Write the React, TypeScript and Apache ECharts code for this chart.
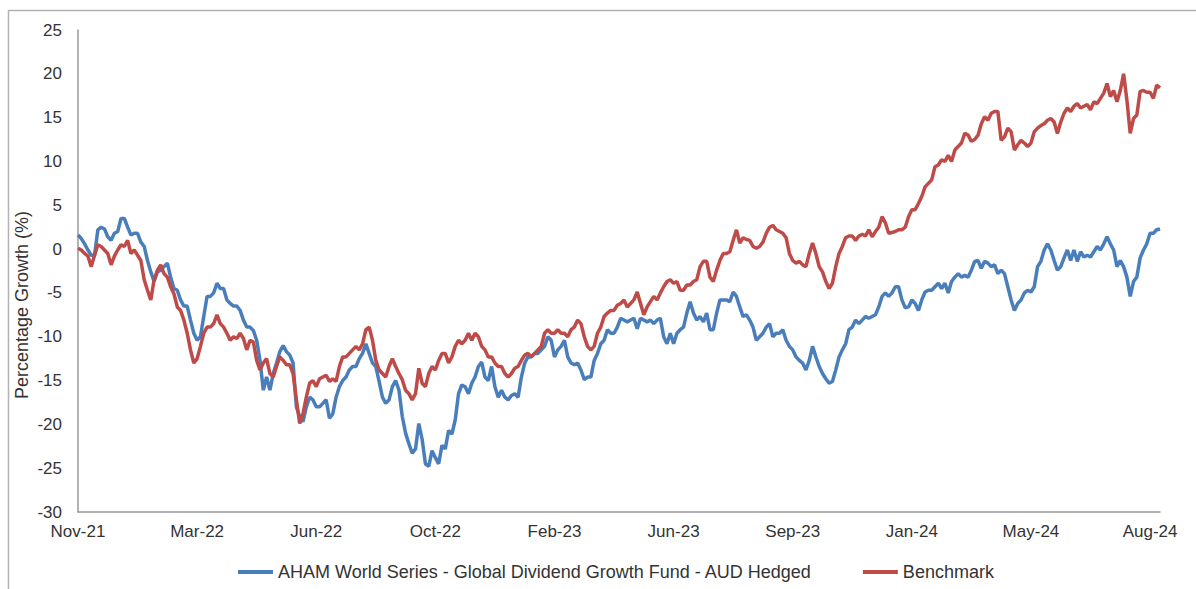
import React, { useEffect, useRef } from "react";
import * as echarts from "echarts";

const tickLabels = ["Nov-21", "Mar-22", "Jun-22", "Oct-22", "Feb-23", "Jun-23", "Sep-23", "Jan-24", "May-24", "Aug-24"];
const pointsPerTick = 36;

const fundName = "AHAM World Series - Global Dividend Growth Fund - AUD Hedged";
const benchName = "Benchmark";

const fund = [
  1.6, 1.2, 0.6, -0.1, -0.7, -0.7, 2.2, 2.5, 2.3, 1.4,
  1.0, 1.8, 2.0, 3.5, 3.5, 2.5, 1.6, 1.8, 1.8, 0.8,
  0.3, -1.3, -2.6, -3.7, -2.6, -2.4, -2.0, -1.6, -3.2, -4.5,
  -4.7, -5.8, -6.5, -6.5, -8.1, -9.6, -10.4, -10.0, -7.7, -5.4,
  -5.4, -5.0, -3.9, -4.5, -4.5, -5.8, -6.2, -6.5, -6.5, -7.0,
  -8.1, -8.9, -8.9, -9.3, -10.4, -12.7, -16.1, -14.6, -16.1, -14.2,
  -13.0, -11.7, -11.0, -11.7, -12.1, -13.0, -18.0, -19.1, -19.7, -18.0,
  -16.9, -17.2, -18.0, -18.0, -17.6, -17.2, -19.3, -18.8, -16.9, -15.7,
  -15.0,
  -14.6, -13.8, -13.4, -13.4, -12.5, -11.9, -10.8, -11.9, -13.0, -13.4,
  -15.1, -16.9, -17.6, -17.2, -15.7, -15.0, -16.1, -19.1, -21.0, -22.2,
  -23.3, -22.8, -19.9, -21.7, -24.5, -24.8, -23.0, -23.8, -24.5, -22.4,
  -22.8, -20.7, -21.1, -19.5, -16.5, -15.5, -15.7, -16.5, -15.3, -14.6,
  -13.4, -12.9, -14.6, -15.0, -13.4, -15.7, -16.9, -16.1, -16.9, -17.2,
  -16.7, -16.5, -16.9, -14.6, -13.0, -12.3, -12.3, -11.9, -11.9, -11.5,
  -11.1, -10.0, -10.4, -12.3, -11.5, -11.1, -10.4, -12.3, -13.0, -13.2,
  -13.0, -13.8, -14.9, -14.6, -14.6, -12.7, -11.9, -10.8, -10.4, -9.2,
  -9.6, -9.6, -8.9, -7.9, -8.1, -8.3, -8.1, -7.9, -9.1, -7.9,
  -8.1, -8.3, -8.1, -8.5, -8.1, -7.9, -10.0, -10.8, -9.6, -10.8,
  -9.6, -9.2, -8.9, -7.3, -6.0, -7.3, -8.1, -7.7, -8.3, -7.3,
  -9.2, -9.2, -7.3, -5.8, -5.8, -5.8, -6.0, -4.9, -5.4, -6.6,
  -7.7, -7.5, -8.1, -8.9, -10.4, -10.0, -9.6, -8.9, -8.5, -10.0,
  -9.6, -9.6, -9.2, -10.4, -11.1, -11.5, -12.3, -12.7, -13.0, -13.8,
  -12.7, -11.1, -12.3, -13.4, -14.2, -14.8, -15.3, -15.1, -13.8, -12.3,
  -11.5, -10.8, -9.2, -8.9, -8.1, -8.5, -8.1, -7.7, -7.9,
  -7.7, -7.5, -6.6, -5.4, -5.0, -5.4, -5.0, -4.3, -4.3, -5.8,
  -6.7, -6.6, -5.8, -6.2, -7.0, -5.8, -4.9, -4.7, -4.7, -4.3,
  -3.9, -4.5, -3.9, -5.0, -3.7, -3.2, -2.8, -3.2, -3.0, -3.2,
  -2.4, -1.4, -1.3, -2.2, -1.4, -1.6, -2.0, -1.8, -2.8, -2.4,
  -2.8, -4.3, -5.8, -7.0, -6.2, -5.8, -5.0, -4.7, -4.9, -4.3,
  -2.0, -1.4, -0.1, 0.6, -0.1, -1.3, -2.4, -2.0, -1.0, -0.1,
  -1.3, -0.1, -1.4, -0.3, -0.9, -0.7, -0.9, -0.3, 0.3, -0.1,
  0.6, 1.4, 0.6, -0.1, -2.0, -1.3, -2.0, -3.2, -5.4, -3.7,
  -3.2, -1.0, -0.1, 0.6, 1.8, 1.8, 2.2, 2.3,
];

const benchmark = [
  0.1, -0.1, -0.5, -0.8, -2.0, -0.7, 0.5, 0.3, -0.1, -0.5,
  -1.8, -0.8, -0.1, 0.5, 0.3, 1.0, -0.5, -0.1, -0.7, -1.3,
  -3.5, -4.7, -5.8, -3.5, -2.4, -1.8, -2.8, -3.2, -4.3, -5.1,
  -6.6, -7.0, -8.1, -9.6, -11.5, -13.0, -12.5, -11.1, -9.6, -8.9,
  -8.9, -8.5, -7.5, -8.5, -8.9, -9.6, -10.4, -10.0, -10.2, -9.6,
  -10.2, -11.5, -10.4, -10.6, -12.7, -13.8, -13.0, -12.5, -14.2, -14.6,
  -13.4, -12.3, -12.7, -13.2, -13.2, -14.2, -17.2, -19.9, -18.8, -16.9,
  -15.3, -15.0, -15.7, -14.8, -14.6, -14.4, -15.1, -14.8, -15.1, -13.4,
  -12.3,
  -12.3, -11.9, -11.5, -11.1, -11.5, -10.8, -9.2, -8.9, -10.4, -12.7,
  -13.8, -14.2, -14.6, -13.4, -12.5, -13.4, -14.2, -14.9, -16.1, -16.5,
  -17.2, -16.5, -13.6, -15.3, -15.7, -14.2, -13.4, -13.8, -12.7, -11.9,
  -11.9, -13.0, -12.3, -11.1, -10.4, -10.8, -10.4, -9.6, -10.4, -9.6,
  -10.0, -11.1, -11.5, -12.3, -12.3, -13.0, -13.4, -13.4, -14.2, -14.6,
  -14.2, -13.6, -13.4, -12.7, -12.1, -11.9, -12.3, -11.9, -11.5, -11.1,
  -9.6, -9.2, -9.6, -9.6, -9.2, -9.6, -9.6, -10.0, -9.2, -8.9,
  -8.1, -8.5, -10.0, -11.1, -11.5, -11.1, -9.6, -8.9, -7.7, -7.3,
  -7.0, -7.0, -6.4, -6.2, -5.8, -6.6, -6.2, -5.8, -4.9, -6.2,
  -7.5, -6.6, -6.0, -5.4, -5.8, -5.0, -4.3, -3.7, -3.5, -3.9,
  -3.7, -4.7, -4.7, -4.1, -4.1, -3.7, -3.5, -2.0, -1.4, -1.4,
  -3.2, -3.7, -2.4, -1.3, -0.5, -0.5, -0.3, 1.0, 2.2, 0.7,
  1.3, 1.1, 1.0, 0.3, 0.1, 0.3, 0.8, 1.8, 2.5, 2.7,
  2.2, 2.0, 1.8, 1.3, -0.5, -1.3, -1.6, -1.4, -1.8, -2.0,
  -0.5, 0.7, -0.5, -2.0, -2.6, -3.7, -4.5, -3.9, -2.0, -0.5,
  0.3, 1.3, 1.5, 1.5, 1.0, 1.5, 1.7, 1.5, 2.2,
  1.4, 2.0, 2.5, 3.7, 3.0, 1.8, 1.9, 2.0, 2.2, 2.2,
  2.5, 3.7, 4.5, 4.5, 5.2, 6.0, 7.1, 7.5, 7.9, 9.4,
  9.6, 10.2, 10.0, 10.7, 10.0, 11.3, 11.7, 12.1, 13.2, 13.0,
  12.3, 12.5, 13.0, 14.3, 15.1, 14.7, 15.5, 15.7, 15.7, 12.4,
  12.8, 13.8, 13.4, 11.3, 11.9, 12.4, 12.1, 11.7, 12.1, 13.4,
  13.8, 14.1, 14.3, 14.7, 14.9, 14.5, 13.2, 14.5, 15.5, 16.1,
  15.7, 16.3, 16.6, 16.1, 16.3, 16.5, 15.9, 16.8, 16.6, 17.2,
  17.8, 18.9, 17.4, 18.1, 16.8, 18.1, 20.0, 17.0, 13.2, 14.9,
  15.3, 18.0, 18.1, 17.9, 17.9, 17.2, 18.7, 18.4,
];

const categories = fund.map((_, i) =>
  i % pointsPerTick === 0 && tickLabels[i / pointsPerTick] ? tickLabels[i / pointsPerTick] : "d" + i
);

const FONT = "'Liberation Sans', Arial, Helvetica, sans-serif";
const TEXT = "#333333";

export default function App() {
  const ref = useRef<HTMLDivElement>(null);
  useEffect(() => {
    if (!ref.current) return;
    const chart = echarts.init(ref.current, null, { renderer: "svg" });
    chart.setOption({
      animation: false,
      backgroundColor: "#ffffff",
      textStyle: { fontFamily: FONT },
      grid: { left: 78, right: 36, top: 30, bottom: 77, containLabel: false },
      xAxis: {
        type: "category",
        data: categories,
        boundaryGap: false,
        axisLine: { show: true, onZero: false, lineStyle: { color: "#999999", width: 1.5 } },
        axisTick: { show: false },
        splitLine: { show: false },
        axisLabel: {
          interval: (index: number) => index % pointsPerTick === 0,
          color: TEXT,
          fontSize: 17,
          fontFamily: FONT,
          margin: 11,
        },
      },
      yAxis: {
        type: "value",
        min: -30,
        max: 25,
        interval: 5,
        axisLine: { show: true, lineStyle: { color: "#999999", width: 1.5 } },
        axisTick: { show: false },
        splitLine: { show: false },
        axisLabel: { color: TEXT, fontSize: 17, fontFamily: FONT, margin: 16 },
      },
      legend: {
        left: 233,
        top: 558,
        icon: "rect",
        itemWidth: 35,
        itemHeight: 4,
        itemGap: 51,
        textStyle: { color: TEXT, fontSize: 18, fontFamily: FONT },
        data: [fundName, benchName],
      },
      graphic: [
        {
          type: "rect",
          silent: true,
          shape: { x: 8.5, y: 10.5, width: 1400, height: 800 },
          style: { fill: "none", stroke: "#b3b3b3", lineWidth: 1.5 },
        },
        {
          type: "text",
          x: 22,
          y: 305,
          rotation: Math.PI / 2,
          style: {
            text: "Percentage Growth (%)",
            fill: TEXT,
            fontSize: 18,
            fontFamily: FONT,
            align: "center",
            verticalAlign: "middle",
          },
        },
      ],
      series: [
        {
          name: fundName,
          type: "line",
          data: fund,
          symbol: "none",
          showSymbol: false,
          lineStyle: { color: "#4a7ebb", width: 3.5 },
          itemStyle: { color: "#4a7ebb" },
          emphasis: { disabled: true },
        },
        {
          name: benchName,
          type: "line",
          data: benchmark,
          symbol: "none",
          showSymbol: false,
          lineStyle: { color: "#be4b48", width: 3.5 },
          itemStyle: { color: "#be4b48" },
          emphasis: { disabled: true },
        },
      ],
    });
    return () => chart.dispose();
  }, []);
  return (
    <div
      ref={ref}
      style={{ position: "absolute", left: 0, top: 0, width: 1196, height: 589, background: "#fff" }}
    />
  );
}
